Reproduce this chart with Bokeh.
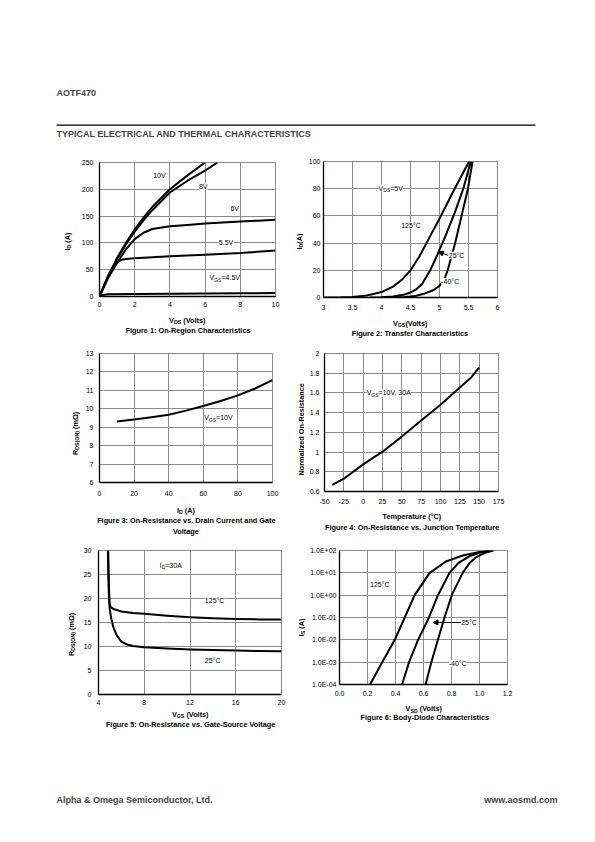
import math
from bokeh.plotting import figure
from bokeh.models import (Range1d, FixedTicker, CustomJSTickFormatter, Label, Arrow,
                          NormalHead)
from bokeh.layouts import column, row
from bokeh.embed import file_html
from bokeh.resources import INLINE

FONT = "Liberation Sans"
GRID = "#8c8c8c"

# ------------------------------------------------------------------ data
# Figure 1: On-Region Characteristics (VDS [V], ID [A])
f1_vds_10v = [0, 0.25, 0.5, 1.0, 1.5, 2.0, 2.5, 3.0, 4.0, 5.0, 6.0]
f1_id_10v = [0, 20, 38, 72, 100, 125, 147, 167, 200, 226, 250]
f1_vds_8v = [0, 0.25, 0.5, 1.0, 1.5, 2.0, 2.5, 3.0, 4.0, 5.0, 6.0, 6.7]
f1_id_8v = [0, 19, 37, 70, 97, 121, 142, 161, 194, 216, 235, 250]
f1_vds_6v = [0, 0.25, 0.5, 1.0, 1.5, 2.0, 2.5, 3.0, 4.0, 5.0, 6.0, 7.0, 8.0, 9.0, 10.0]
f1_id_6v = [0, 18, 35, 63, 88, 107, 119, 126, 131, 133.5, 136, 138, 140, 141.5, 143]
f1_vds_55v = [0, 0.25, 0.5, 0.75, 1.0, 1.25, 1.5, 2.0, 3.0, 4.0, 6.0, 8.0, 10.0]
f1_id_55v = [0, 20, 40, 55, 64, 68.5, 70, 71.5, 73, 75, 78, 81, 86]
f1_vds_45v = [0, 0.2, 0.5, 2.0, 4.0, 6.0, 8.0, 10.0]
f1_id_45v = [0, 3, 4, 4.5, 5, 5.5, 6, 6.5]
f1_xticks = [0, 2, 4, 6, 8, 10]
f1_yticks = [0, 50, 100, 150, 200, 250]

# Figure 2: Transfer Characteristics (VGS [V], ID [A])
f2_vgs_125 = [3.0, 3.3, 3.5, 3.75, 4.0, 4.2, 4.35, 4.5, 4.65, 4.8, 5.0, 5.25, 5.51]
f2_id_125 = [0, 0.1, 0.4, 1.5, 4.0, 8, 13, 20, 30, 42, 58, 79, 100]
f2_vgs_25 = [3.8, 4.0, 4.2, 4.4, 4.5, 4.6, 4.7, 4.84, 4.97, 5.1, 5.26, 5.41, 5.54]
f2_id_25 = [0, 0.2, 0.8, 2.2, 3.7, 6, 10, 20, 32, 45, 62, 80, 100]
f2_vgs_m40 = [4.2, 4.4, 4.5, 4.6, 4.75, 4.9, 5.0, 5.08, 5.14, 5.27, 5.38, 5.49, 5.57]
f2_id_m40 = [0, 0.3, 0.7, 1.3, 3, 5.5, 8.5, 13, 20, 40, 60, 80, 100]
f2_xticks = [3, 3.5, 4, 4.5, 5, 5.5, 6]
f2_yticks = [0, 20, 40, 60, 80, 100]

# Figure 3: On-Resistance vs. Drain Current (ID [A], RDS(ON) [mOhm])
f3_id = [10, 20, 30, 40, 50, 60, 70, 80, 90, 100]
f3_rds = [9.31, 9.42, 9.54, 9.68, 9.9, 10.15, 10.42, 10.73, 11.1, 11.55]
f3_xticks = [0, 20, 40, 60, 80, 100]
f3_yticks = [6, 7, 8, 9, 10, 11, 12, 13]

# Figure 4: Normalized On-Resistance vs. Junction Temperature
f4_temp = [-40, -25, 0, 25, 50, 75, 100, 125, 140, 150]
f4_rnorm = [0.668, 0.73, 0.875, 1.004, 1.157, 1.32, 1.48, 1.655, 1.76, 1.86]
f4_xticks = [-50, -25, 0, 25, 50, 75, 100, 125, 150, 175]
f4_yticks = [0.6, 0.8, 1.0, 1.2, 1.4, 1.6, 1.8, 2.0]

# Figure 5: On-Resistance vs. Gate-Source Voltage (VGS [V], RDS(ON) [mOhm])
f5_vgs_125 = [4.85, 4.88, 4.92, 4.97, 5.05, 5.3, 6.0, 7, 8, 10, 12, 14, 16, 18, 20]
f5_rds_125 = [30, 26, 22, 19, 18.3, 17.8, 17.3, 17.0, 16.8, 16.4, 16.1, 15.9, 15.75, 15.65, 15.6]
f5_vgs_25 = [4.82, 4.85, 4.9, 4.97, 5.1, 5.3, 5.6, 6.0, 6.5, 7, 8, 10, 12, 14, 16, 18, 20]
f5_rds_25 = [30, 26, 21, 18, 16, 14, 12.3, 11.0, 10.4, 10.1, 9.85, 9.6, 9.4, 9.27, 9.15, 9.05, 9.0]
f5_xticks = [4, 8, 12, 16, 20]
f5_yticks = [0, 5, 10, 15, 20, 25, 30]

# Figure 6: Body-Diode Characteristics (VSD [V], IS [A])
f6_vsd_125 = [0.218, 0.305, 0.395, 0.466, 0.537, 0.644, 0.76, 0.88, 1.0, 1.09]
f6_is_125 = [1e-4, 1e-3, 1e-2, 1e-1, 1.0, 10, 32, 60, 85, 100]
f6_vsd_25 = [0.447, 0.497, 0.561, 0.639, 0.703, 0.786, 0.85, 0.93, 1.0, 1.07]
f6_is_25 = [1e-4, 1e-3, 1e-2, 1e-1, 1.0, 10, 28, 56, 79, 100]
f6_vsd_m40 = [0.615, 0.656, 0.703, 0.75, 0.802, 0.88, 0.93, 0.98, 1.04, 1.1]
f6_is_m40 = [1e-4, 1e-3, 1e-2, 1e-1, 1.0, 10, 28, 52, 79, 100]
f6_xticks = [0.0, 0.2, 0.4, 0.6, 0.8, 1.0, 1.2]
f6_yticks = [1e-4, 1e-3, 1e-2, 1e-1, 1e0, 1e1, 1e2]

# ------------------------------------------------------------------ text metrics (Arial-like)
W_REG = {" ": 278, "(": 333, ")": 333, "+": 584, ",": 278, "-": 333, ".": 278, ":": 278,
         "=": 584, "°": 400, "Ω": 768, "A": 667, "B": 667, "C": 722, "D": 722, "E": 667,
         "F": 611, "G": 778, "H": 722, "I": 278, "L": 556, "M": 833, "N": 722, "O": 778,
         "P": 667, "R": 722, "S": 667, "T": 611, "V": 667, "a": 556, "c": 500, "e": 556,
         "i": 222, "l": 222, "m": 833, "n": 556, "o": 556, "r": 333, "s": 500, "t": 278,
         "u": 556, "v": 500, "z": 500}
W_BOLD = {" ": 278, "(": 333, ")": 333, "+": 584, ",": 278, "-": 333, ".": 278, ":": 333,
          "=": 584, "°": 400, "Ω": 768, "A": 722, "B": 722, "C": 722, "D": 722, "E": 667,
          "F": 611, "G": 778, "H": 722, "I": 278, "L": 611, "M": 833, "N": 722, "O": 778,
          "P": 667, "R": 722, "S": 667, "T": 611, "V": 667, "a": 556, "c": 556, "e": 556,
          "i": 278, "l": 278, "m": 889, "n": 611, "o": 611, "r": 389, "s": 556, "t": 333,
          "u": 611, "v": 556, "z": 500}

LBL = 7.3   # axis labels / captions (bold)
ANN = 7.0   # annotations inside the plots


def text_width(s, size, bold):
    table = W_BOLD if bold else W_REG
    return sum(table.get(c, 556) for c in s) * size / 1000.0


def rich(p, x, y, parts, size=ANN, bold=False, align="left", angle=0.0, bg=False):
    """Text made of pieces; (text, True) pieces are drawn as subscripts."""
    sub = size * 0.72
    widths = [text_width(t, sub if s else size, bold) for t, s in parts]
    pos = 0.0 if align == "left" else -sum(widths) / 2.0
    for (t, s), w in zip(parts, widths):
        fs = sub if s else size
        core = t.lstrip(" ")
        lead = text_width(t[:len(t) - len(core)], fs, bold)   # leading blanks -> offset
        drop = size * 0.27 if s else 0.0
        if angle == 0:
            xo, yo = pos + lead, -drop
        else:
            xo, yo = drop, pos + lead
        lab = Label(x=x, y=y, text=core, x_offset=xo, y_offset=yo, angle=angle,
                    text_align="left", text_baseline="middle",
                    text_font=FONT, text_font_size=f"{fs:.2f}px",
                    text_font_style="bold" if bold else "normal", text_color="black")
        if bg:
            lab.background_fill_color = "white"
        p.add_layout(lab)
        pos += w


def canvas(x0, y0, w, h):
    """Blank drawing area whose data units are page pixels (y grows downward)."""
    c = figure(title=None, x_range=Range1d(x0, x0 + w), y_range=Range1d(y0 + h, y0),
               frame_width=w, frame_height=h, min_border=0,
               x_axis_type=None, y_axis_type=None, toolbar_location=None,
               output_backend="svg")
    c.outline_line_color = None
    c.background_fill_color = "white"
    c.border_fill_color = "white"
    return c


def chart(xr, yr, fw, fh, left, right, top, bottom, xticks, yticks,
          xstand, ystand, xfmt="return String(tick);", yfmt="return String(tick);", ylog=False):
    p = figure(title=None, x_range=Range1d(*xr), y_range=Range1d(*yr),
               frame_width=fw, frame_height=fh,
               min_border_left=left, min_border_right=right,
               min_border_top=top, min_border_bottom=bottom,
               y_axis_type="log" if ylog else "linear",
               toolbar_location=None, output_backend="svg")
    p.background_fill_color = "white"
    p.border_fill_color = "white"
    p.outline_line_color = GRID
    p.outline_line_width = 1
    p.xaxis.ticker = FixedTicker(ticks=xticks)
    p.yaxis.ticker = FixedTicker(ticks=yticks)
    p.xaxis.formatter = CustomJSTickFormatter(code=xfmt)
    p.yaxis.formatter = CustomJSTickFormatter(code=yfmt)
    p.xaxis.major_label_standoff = int(xstand)
    p.yaxis.major_label_standoff = int(ystand)
    for ax in (p.xaxis[0], p.yaxis[0]):
        ax.axis_line_color = "black"
        ax.axis_line_width = 1.3
        ax.major_tick_in = 0
        ax.major_tick_out = 0
        ax.minor_tick_in = 0
        ax.minor_tick_out = 0
        ax.major_label_text_font = FONT
        ax.major_label_text_font_size = "7px"
        ax.major_label_text_color = "black"
    for g in (p.xgrid[0], p.ygrid[0]):
        g.grid_line_color = GRID
        g.grid_line_width = 1
    return p


def cell(p, cx, cy, yw, ylabel, ylab_pos, xlabel, xlab_pos, captions, bottom_h):
    """Chart with a y-label strip on its left and a text strip below (page coordinates)."""
    ph = p.frame_height + p.min_border_top + p.min_border_bottom
    pw = p.frame_width + p.min_border_left + p.min_border_right
    ys = canvas(cx, cy, yw, ph)
    rich(ys, ylab_pos[0], ylab_pos[1], ylabel, size=LBL, bold=True, align="center",
         angle=math.pi / 2)
    xs = canvas(cx, cy + ph, yw + pw, bottom_h)
    rich(xs, xlab_pos[0], xlab_pos[1], xlabel, size=LBL, bold=True, align="center")
    for text, (tx, ty) in captions:
        rich(xs, tx, ty, [(text, False)], size=LBL, bold=True, align="center")
    return column(row(ys, p), xs)


def curve(p, x, y):
    p.line(x, y, line_width=2, line_color="black", line_join="round")


ARROW_HEAD = dict(size=5, fill_color="black", line_color="black")

# ------------------------------------------------------------------ header
hdr = canvas(0, 0, 590, 150)
hdr.add_layout(Label(x=56, y=92, text="AOTF470", text_font=FONT, text_font_size="9px",
                     text_font_style="bold", text_baseline="middle"))
hdr.segment(x0=[56], y0=[124.7], x1=[535], y1=[124.7], line_color="black", line_width=1.3)
hdr.add_layout(Label(x=56, y=133.5, text="TYPICAL ELECTRICAL AND THERMAL CHARACTERISTICS",
                     text_font=FONT, text_font_size="9px", text_font_style="bold",
                     text_baseline="middle"))

# ------------------------------------------------------------------ figure 1
p1 = chart((0, 10), (0, 250), 176, 134, 24, 10, 12, 14, f1_xticks, f1_yticks, 5, 6)
curve(p1, f1_vds_10v, f1_id_10v)
curve(p1, f1_vds_8v, f1_id_8v)
curve(p1, f1_vds_6v, f1_id_6v)
curve(p1, f1_vds_55v, f1_id_55v)
curve(p1, f1_vds_45v, f1_id_45v)
rich(p1, 3.05, 225, [("10V", False)], bg=True)
rich(p1, 5.65, 205, [("8V", False)], bg=True)
rich(p1, 7.44, 165, [("6V", False)], bg=True)
rich(p1, 6.78, 101, [("5.5V", False)], bg=True)
rich(p1, 6.25, 35, [("V", False), ("GS", True), ("=4.5V", False)], bg=True)
c1 = cell(p1, 0, 150, 75, [("I", False), ("D", True), (" (A)", False)], (67, 229),
          [("V", False), ("DS", True), (" (Volts)", False)], (187, 320),
          [("Figure 1: On-Region Characteristics", (187, 329.7))], 30)

# ------------------------------------------------------------------ figure 2
p2 = chart((3, 6), (0, 100), 174, 136, 20, 20, 11, 16, f2_xticks, f2_yticks, 7, 3)
curve(p2, f2_vgs_125, f2_id_125)
curve(p2, f2_vgs_25, f2_id_25)
curve(p2, f2_vgs_m40, f2_id_m40)
rich(p2, 3.95, 80.4, [("V", False), ("DS", True), ("=5V", False)], bg=True)
rich(p2, 4.34, 52.7, [("125°C", False)], bg=True)
rich(p2, 5.16, 31, [("25°C", False)], bg=True)
rich(p2, 5.03, 11.8, [("-40°C", False)], bg=True)
p2.add_layout(Arrow(end=NormalHead(**ARROW_HEAD), x_start=5.15, y_start=31,
                    x_end=4.98, y_end=33.5, line_width=1))
c2 = cell(p2, 285, 150, 18, [("I", False), ("D", True), ("(A)", False)], (298.5, 230),
          [("V", False), ("GS", True), ("(Volts)", False)], (410, 322.7),
          [("Figure 2: Transfer Characteristics", (410, 333))], 27)

# ------------------------------------------------------------------ figure 3
p3 = chart((0, 100), (6, 13), 173, 129, 19, 13, 13, 22, f3_xticks, f3_yticks, 8, 6)
curve(p3, f3_id, f3_rds)
rich(p3, 60.5, 9.51, [("V", False), ("GS", True), ("=10V", False)], bg=True)
c3 = cell(p3, 0, 340, 80, [("R", False), ("DS(ON)", True), (" (mΩ)", False)], (75, 420),
          [("I", False), ("D", True), (" (A)", False)], (185.5, 510),
          [("Figure 3: On-Resistance vs. Drain Current and Gate", (185.5, 520.3)),
           ("Voltage", (185.5, 531))], 36)

# ------------------------------------------------------------------ figure 4
p4 = chart((-50, 175), (0.6, 2.0), 174, 138, 20, 20, 13, 15, f4_xticks, f4_yticks, 7, 5)
curve(p4, f4_temp, f4_rnorm)
rich(p4, 4.5, 1.6, [("V", False), ("GS", True), ("=10V, 30A", False)], bg=True)
c4 = cell(p4, 285, 340, 19, [("Normalized On-Resistance", False)], (300.5, 416),
          [("Temperature (°C)", False)], (411.5, 516),
          [("Figure 4: On-Resistance vs. Junction Temperature", (411.5, 526.7))], 34)

# ------------------------------------------------------------------ figure 5
p5 = chart((4, 20), (0, 30), 183, 144, 20, 6, 10, 14, f5_xticks, f5_yticks, 5, 7)
curve(p5, f5_vgs_125, f5_rds_125)
curve(p5, f5_vgs_25, f5_rds_25)
rich(p5, 9.35, 26.9, [("I", False), ("D", True), ("=30A", False)], bg=True)
rich(p5, 13.3, 19.5, [("125°C", False)], bg=True)
rich(p5, 13.3, 7.1, [("25°C", False)], bg=True)
c5 = cell(p5, 0, 540, 78, [("R", False), ("DS(ON)", True), (" (mΩ)", False)], (71, 624),
          [("V", False), ("GS", True), (" (Volts)", False)], (190, 714),
          [("Figure 5: On-Resistance vs. Gate-Source Voltage", (190, 723.5))], 32)

# ------------------------------------------------------------------ figure 6
LOGFMT = """
const e = Math.round(Math.log10(tick));
const a = Math.abs(e);
return "1.0E" + (e < 0 ? "-" : "+") + (a < 10 ? "0" : "") + a;
"""
p6 = chart((0, 1.2), (1e-4, 1e2), 168, 134, 34, 20, 10, 14, f6_xticks, f6_yticks, 6, 3,
           xfmt="return tick.toFixed(1);", yfmt=LOGFMT, ylog=True)
curve(p6, f6_vsd_125, f6_is_125)
curve(p6, f6_vsd_25, f6_is_25)
curve(p6, f6_vsd_m40, f6_is_m40)
rich(p6, 0.218, 2.9, [("125°C", False)], bg=True)
rich(p6, 0.869, 0.06, [("25°C", False)], bg=True)
rich(p6, 0.78, 9e-4, [("-40°C", False)], bg=True)
p6.add_layout(Arrow(end=NormalHead(**ARROW_HEAD), x_start=0.869, y_start=0.06,
                    x_end=0.668, y_end=0.06, line_width=1))
c6 = cell(p6, 287, 540, 18, [("I", False), ("S", True), (" (A)", False)], (300.5, 617),
          [("V", False), ("SD", True), (" (Volts)", False)], (423.5, 708.3),
          [("Figure 6: Body-Diode Characteristics", (423.5, 717.3))], 42)

# ------------------------------------------------------------------ footer
ftr = canvas(0, 740, 590, 70)
ftr.add_layout(Label(x=56, y=799, text="Alpha & Omega Semiconductor, Ltd.", text_font=FONT,
                     text_font_size="9px", text_font_style="bold", text_baseline="middle"))
ftr.add_layout(Label(x=557, y=799, text="www.aosmd.com", text_font=FONT,
                     text_font_size="9px", text_font_style="bold", text_baseline="middle",
                     text_align="right"))

page = column(hdr, row(c1, c2), row(c3, c4), row(c5, c6), ftr)
open("out.html", "w").write(file_html(page, INLINE, title="AOTF470"))
